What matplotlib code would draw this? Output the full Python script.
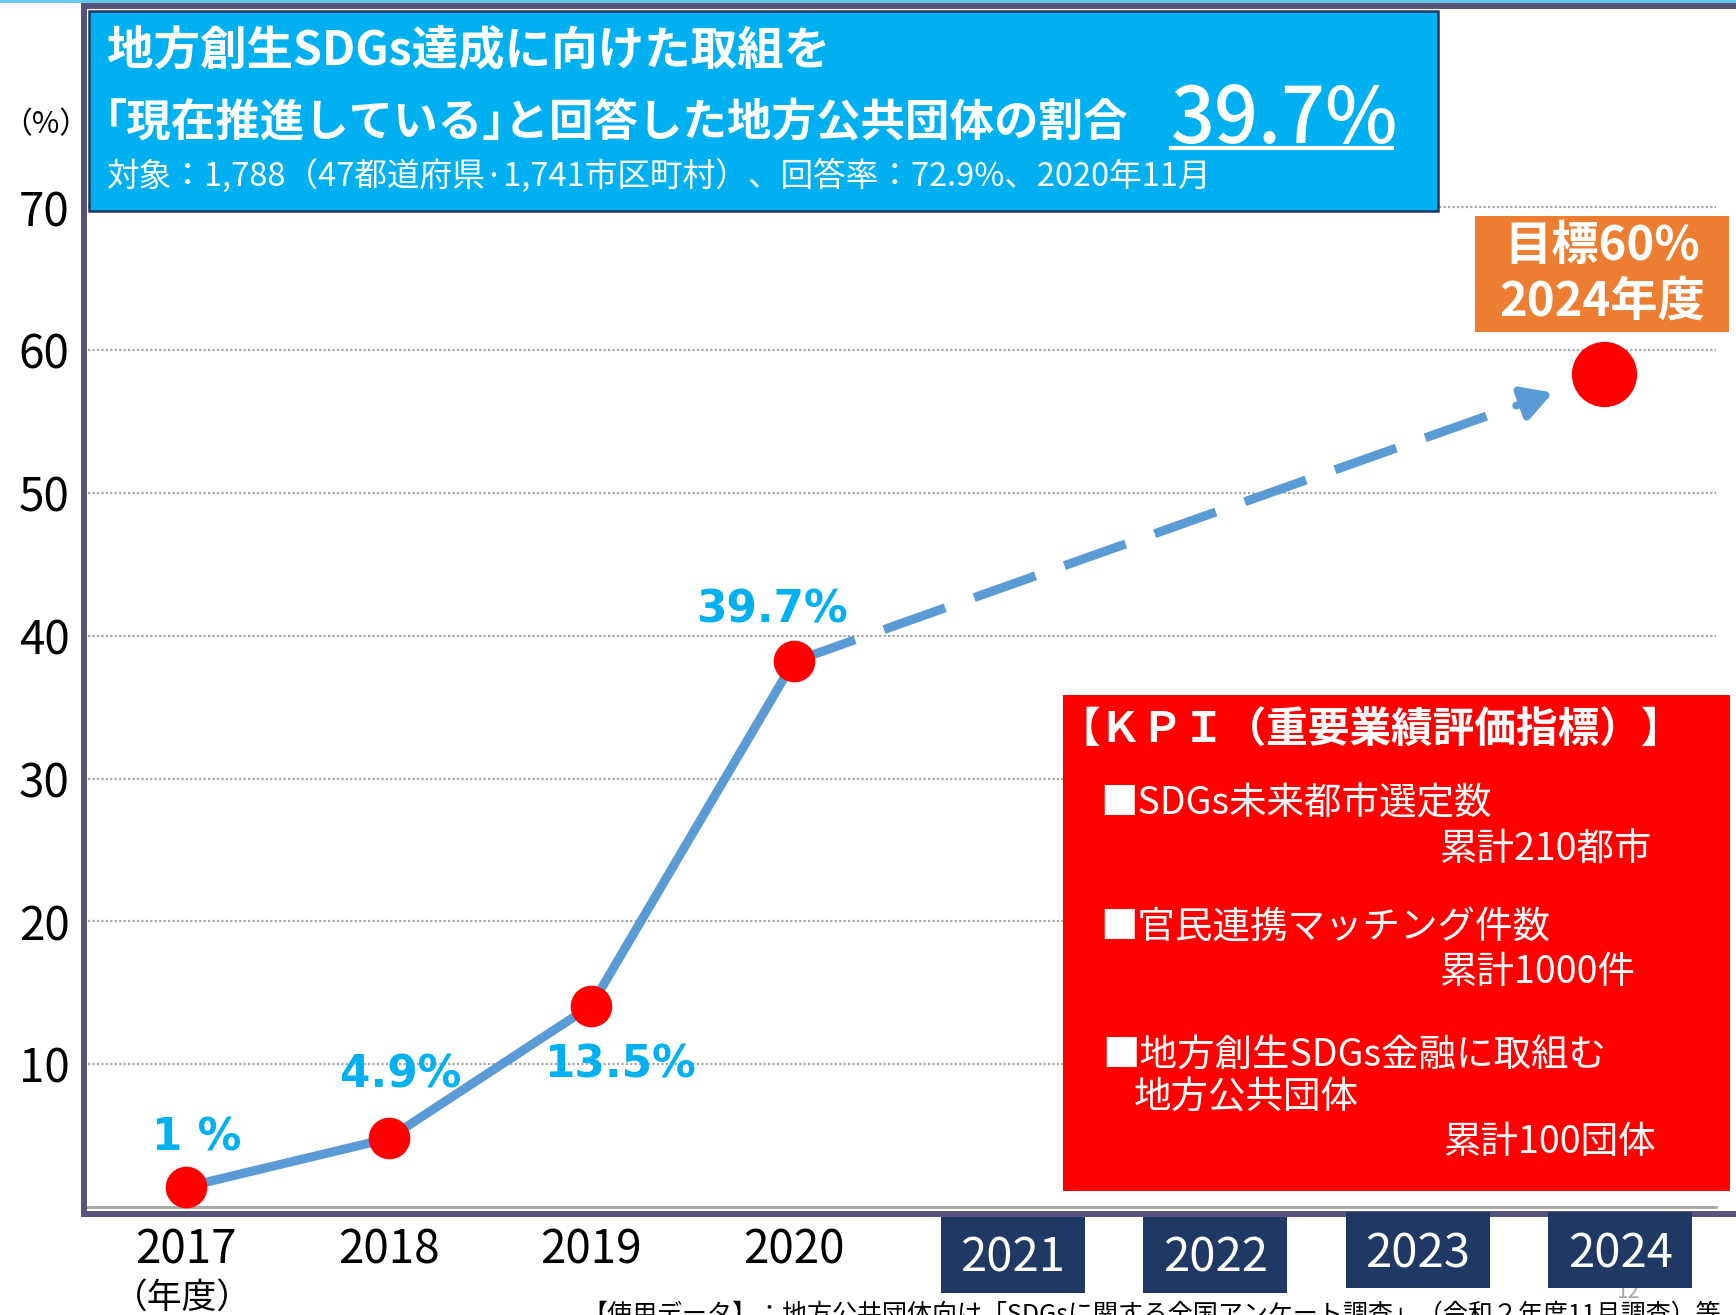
import matplotlib
matplotlib.use("Agg")
import matplotlib.pyplot as plt
import matplotlib.transforms as mtransforms
from matplotlib.patches import Rectangle, FancyArrowPatch
from matplotlib.lines import Line2D

plt.rcParams['font.family'] = ['Noto Sans CJK JP', 'DejaVu Sans']

# ---------------- data ----------------
years = [2017, 2018, 2019, 2020]
rates = [1.4, 4.8, 14.1, 38.2]          # plotted positions
rate_labels = ['1 %', '4.9%', '13.5%', '39.7%']
target_year = 2024
target_value = 58.3
target_text = ['目標60%', '2024年度']
future_years = [2021, 2022, 2023, 2024]
y_ticks = [10, 20, 30, 40, 50, 60, 70]

title_line1 = '地方創生SDGs達成に向けた取組を'
title_line2 = '｢現在推進している｣と回答した地方公共団体の割合'
title_value = '39.7%'
title_line3 = '対象：1,788（47都道府県·1,741市区町村）、回答率：72.9%、2020年11月'
kpi_title = '【ＫＰＩ（重要業績評価指標）】'
kpi_lines = ['■SDGs未来都市選定数', '累計210都市', '■官民連携マッチング件数', '累計1000件',
             '■地方創生SDGs金融に取組む', '地方公共団体', '累計100団体']
footnote = '【使用データ】：地方公共団体向け「SDGsに関する全国アンケート調査」（令和２年度11月調査）等'

# ---------------- layout helpers ----------------
W, H = 1736, 1315
def fx(px): return px / W
def fy(py): return 1 - py / H

fig = plt.figure(figsize=(W / 100, H / 100), dpi=100)
fig.patch.set_facecolor('white')

ax = fig.add_axes([fx(83.5), fy(1214), fx(1746) - fx(83.5), fy(6.3) - fy(1214)])
ax.set_xlim(2016.494, 2024.700)
ax.set_ylim(-0.49, 84.08)

frame_col = '#57537c'
for s in ['left', 'bottom', 'top']:
    ax.spines[s].set_color(frame_col)
    ax.spines[s].set_linewidth(4.3)
ax.spines['right'].set_visible(False)

ax.set_yticks(y_ticks)
ax.set_yticklabels([str(v) for v in y_ticks], fontsize=33, color='black')
ax.tick_params(axis='y', length=0, pad=10)
ax.set_xticks([])

# gridlines and base line
for v in y_ticks:
    ax.axhline(v, xmin=0.003, xmax=0.982, color='#a6a6a6', lw=1.6,
               linestyle=(0, (1, 1)), zorder=1)
ax.axhline(0, xmin=0.0, xmax=0.982, color='#a6a6a6', lw=2.0, zorder=1)

line_col = '#5b9bd5'
ax.plot(years, rates, color=line_col, lw=6.5, solid_capstyle='butt', zorder=3)

# dashed projection with arrow
x0, y0 = years[-1], rates[-1]
def along(f):
    return x0 + f * (target_year - x0), y0 + f * (target_value - y0)
xs, ys = zip(along(0.0), along(0.865))
ax.plot(xs, ys, color=line_col, lw=6.5, dashes=(7.2, 3.4), dash_capstyle='butt', zorder=3)
arr = FancyArrowPatch(along(0.888), along(0.94),
                      arrowstyle='-|>,head_length=0.75,head_width=0.42',
                      mutation_scale=24, lw=5.5, color=line_col, zorder=3)
ax.add_patch(arr)

# markers
ax.plot(years, rates, 'o', ms=30, color='#ff0000', mec='none', zorder=4)
ax.plot([target_year], [target_value], 'o', ms=47, color='#ff0000', mec='none', zorder=4)

# data labels
label_offsets = [(8, 35), (9, 46), (21, -43), (-16, 37)]
for yr, v, lab, off in zip(years, rates, rate_labels, label_offsets):
    ax.annotate(lab, (yr, v), xytext=off, textcoords='offset points',
                ha='center', va='center', color='#00b0f0', fontsize=31.5,
                fontweight='bold', family=['DejaVu Sans'], zorder=5)

# x labels
blend = mtransforms.blended_transform_factory(ax.transData, fig.transFigure)
for yr in years:
    fig.text(yr, fy(1263), str(yr), transform=blend, ha='center', va='baseline',
             fontsize=33, color='black')
fig.text(fx(182), fy(1299), '（年度）', ha='center', va='center', fontsize=25)

# page number (behind the boxes)
fig.text(fx(1628), fy(1292), '12', ha='center', va='center', fontsize=15,
         color='#a6a6a6', zorder=0.5)

box_shift = 0.08
box_tops = [1217, 1217, 1212, 1212]
for yr, top in zip(future_years, box_tops):
    fig.add_artist(Rectangle((yr + box_shift - 0.355, fy(top + 76)), 0.71, 76 / H,
                             transform=blend, facecolor='#203864', edgecolor='none',
                             zorder=1))
    fig.text(yr + box_shift, fy(top + 55), str(yr), transform=blend, ha='center',
             va='baseline', fontsize=34, color='white', zorder=3)

# footnote (cut by the figure edge, as in the original)
fig.text(fx(582), fy(1302), footnote, ha='left', va='top', fontsize=18, color='black')

# title box
fig.add_artist(Rectangle((fx(89), fy(211)), fx(1438) - fx(89), fy(11) - fy(211),
                         transform=fig.transFigure, facecolor='#00b0f0',
                         edgecolor='#1f3864', lw=1.8, zorder=1))
fig.text(fx(107), fy(51), title_line1, ha='left', va='center', fontsize=33.5,
         fontweight='bold', color='white')
fig.text(fx(105), fy(122), title_line2, ha='left', va='center', fontsize=32,
         fontweight='bold', color='white')
fig.text(fx(1171), fy(143), title_value, ha='left', va='baseline', fontsize=55.5,
         fontweight='medium', color='white')
fig.add_artist(Line2D([fx(1171), fx(1392)], [fy(148), fy(148)], color='white', lw=3,
                      transform=fig.transFigure, zorder=4))
fig.text(fx(107), fy(176), title_line3, ha='left', va='center', fontsize=23.5,
         color='white')

fig.text(fx(46), fy(125), '（%）', ha='center', va='center', fontsize=21.5)

# target box
fig.add_artist(Rectangle((fx(1475), fy(332)), fx(1729) - fx(1475), fy(216) - fy(332),
                         transform=fig.transFigure, facecolor='#ed7d31',
                         edgecolor='none', zorder=1))
fig.text(fx(1602), fy(246), target_text[0], ha='center', va='center', fontsize=34,
         fontweight='bold', color='white')
fig.text(fx(1602), fy(302), target_text[1], ha='center', va='center', fontsize=34,
         fontweight='bold', color='white')

# KPI box
fig.add_artist(Rectangle((fx(1063), fy(1191)), fx(1730) - fx(1063), fy(695) - fy(1191),
                         transform=fig.transFigure, facecolor='#ff0000',
                         edgecolor='none', zorder=1))
fig.text(fx(1058), fy(731), kpi_title, ha='left', va='center', fontsize=30,
         fontweight='bold', color='white')
kpi_pos = [(1100, 804), (1439, 849), (1100, 928), (1439, 973),
           (1102, 1055), (1134, 1098), (1443, 1143)]
for txt, (px, py) in zip(kpi_lines, kpi_pos):
    fig.text(fx(px), fy(py), txt, ha='left', va='center', fontsize=27, color='white')

# thin light-blue line on top edge
fig.add_artist(Line2D([0, 1], [fy(1), fy(1)], color='#5fc3ee', lw=2,
                      transform=fig.transFigure))

fig.savefig('out.png', dpi=100)
